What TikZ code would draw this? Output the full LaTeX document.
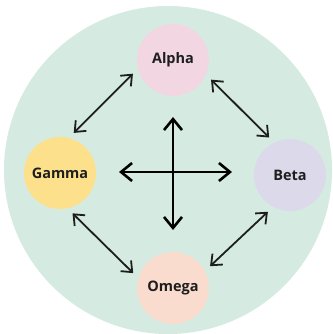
\documentclass[tikz,border=0pt]{standalone}
\usepackage{fontspec}
\setmainfont{Open Sans}
\usetikzlibrary{arrows.meta,positioning}

\definecolor{mint}{HTML}{D5EBE1}
\definecolor{pinkish}{HTML}{F2D6E2}
\definecolor{lavender}{HTML}{DCD9EA}
\definecolor{sunny}{HTML}{FDE08C}
\definecolor{peach}{HTML}{F9DCCD}
\definecolor{ink}{HTML}{1E1E1E}

\tikzset{
    bubble/.style={circle, minimum size=72pt, inner sep=0pt, font=\bfseries\fontsize{14.5}{17}\selectfont, text=ink},
    link/.style={{Straight Barb[length=9pt,width=15pt]}-{Straight Barb[length=9pt,width=15pt]}, line width=1.8pt, ink, shorten <=7pt, shorten >=7pt},
    crossarrow/.style={{Straight Barb[length=11pt,width=18pt]}-{Straight Barb[length=11pt,width=18pt]}, line width=2.6pt, black}
}

\begin{document}
\begin{tikzpicture}[x=1pt, y=-1pt]
    \useasboundingbox (0,0) rectangle (332,334);

    % Background
    \node[circle, fill=mint, minimum size=328pt, inner sep=0pt] (ring) at (168,170) {};

    % Four items
    \node[bubble, fill=pinkish] (alpha) at (173,60) {Alpha};
    \node[bubble, fill=sunny] (gamma) at (60,173) {Gamma};
    \node[bubble, fill=lavender] (beta) at (290,175) {Beta};
    \node[bubble, fill=peach] (omega) at (173,288) {Omega};

    % Centre cross
    \coordinate (hub) at (173,172);
    \coordinate (west) at (119,172);
    \coordinate (east) at (232,172);
    \coordinate (north) at (173,117);
    \coordinate (south) at (173,230);
    \draw[crossarrow] (west) -- (east);
    \draw[crossarrow] (north) -- (south);

    % Links
    \draw[link] (alpha.194) -- (gamma.76);
    \draw[link] (alpha.336) -- (beta.116);
    \draw[link] (gamma.282) -- (omega.164);
    \draw[link] (beta.242) -- (omega.28);
\end{tikzpicture}
\end{document}
